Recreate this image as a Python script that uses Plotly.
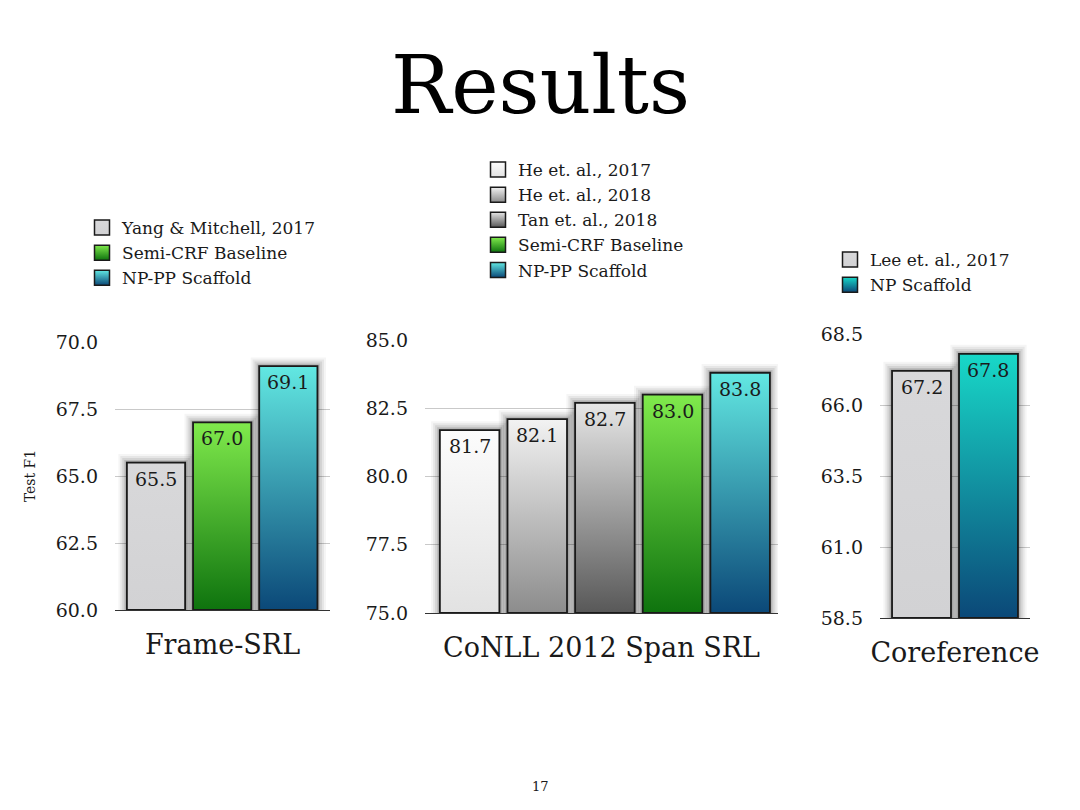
import plotly.graph_objects as go

# --- data ---
frame_labels = ["Yang & Mitchell, 2017", "Semi-CRF Baseline", "NP-PP Scaffold"]
frame_f1 = [65.5, 67.0, 69.1]
frame_ticks = [60.0, 62.5, 65.0, 67.5, 70.0]

conll_labels = ["He et. al., 2017", "He et. al., 2018", "Tan et. al., 2018",
                "Semi-CRF Baseline", "NP-PP Scaffold"]
conll_f1 = [81.7, 82.1, 82.7, 83.0, 83.8]
conll_ticks = [75.0, 77.5, 80.0, 82.5, 85.0]

coref_labels = ["Lee et. al., 2017", "NP Scaffold"]
coref_f1 = [67.2, 67.8]
coref_ticks = [58.5, 61.0, 63.5, 66.0, 68.5]

# gradient (bottom colour, top colour) per system
grad = {
    "Yang & Mitchell, 2017": ("#d2d2d4", "#d8d8da"),
    "Lee et. al., 2017": ("#d2d2d4", "#d8d8da"),
    "He et. al., 2017": ("#e2e2e2", "#fcfcfc"),
    "He et. al., 2018": ("#8c8c8c", "#f2f2f2"),
    "Tan et. al., 2018": ("#585858", "#e6e6e6"),
    "Semi-CRF Baseline": ("#0e730e", "#80ea4c"),
    "NP-PP Scaffold": ("#0b4878", "#62e8e2"),
    "NP Scaffold": ("#0b4878", "#18d8c8"),
}

FONT = "DejaVu Serif"
INK = "#1a1a1a"
W = 0.44  # half bar width, in category units

# page body adds an 8px offset, so convert slide pixels -> paper coords
def px(x):
    return (x - 8) / 1080


def py(y):
    return 1 - (y - 8) / 810


fig = go.Figure()


def add_panel(labels, vals, ticks, n, legend):
    xa = "x" if n == 1 else f"x{n}"
    ya = "y" if n == 1 else f"y{n}"
    base = ticks[0]
    unit = (ticks[-1] - base) / 10
    for i, (lab, v) in enumerate(zip(labels, vals)):
        # soft drop shadow
        for k, op in [(0.13, 0.04), (0.10, 0.06), (0.07, 0.08), (0.04, 0.11), (0.02, 0.15)]:
            fig.add_trace(go.Scatter(
                x=[i - W - k, i + W + k, i + W + k, i - W - k, i - W - k],
                y=[base, base, v + k * 2.5 * unit, v + k * 2.5 * unit, base],
                fill="toself", fillcolor=f"rgba(0,0,0,{op})", mode="none",
                showlegend=False, hoverinfo="skip", xaxis=xa, yaxis=ya))
        lo, hi = grad[lab]
        fig.add_trace(go.Scatter(
            x=[i - W, i + W, i + W, i - W, i - W],
            y=[base, base, v, v, base],
            fill="toself", mode="lines",
            line=dict(color=INK, width=1.8),
            fillgradient=dict(type="vertical", colorscale=[[0, lo], [1, hi]]),
            showlegend=False, xaxis=xa, yaxis=ya, hoverinfo="skip"))
        # legend swatch
        fig.add_trace(go.Scatter(
            x=[None], y=[None], mode="markers", name=lab, legend=legend,
            marker=dict(symbol="square", size=15, color=hi,
                        gradient=dict(type="vertical", color=lo),
                        line=dict(color=INK, width=1.5)),
            xaxis=xa, yaxis=ya))
    for i, v in enumerate(vals):
        fig.add_annotation(x=i, y=v, xref=xa, yref=ya, text=f"{v:.1f}",
                           showarrow=False, yanchor="top", yshift=-3,
                           font=dict(family=FONT, size=19, color=INK))


add_panel(frame_labels, frame_f1, frame_ticks, 1, "legend")
add_panel(conll_labels, conll_f1, conll_ticks, 2, "legend2")
add_panel(coref_labels, coref_f1, coref_ticks, 3, "legend3")

ax_common = dict(showgrid=False, zeroline=False, showline=True, linecolor="#333",
                 linewidth=1.3, showticklabels=False, ticks="", fixedrange=True,
                 automargin=False,
                 title_font=dict(family=FONT, size=27, color=INK), title_standoff=24)
ay_common = dict(showgrid=True, gridcolor="#c9c9c9", gridwidth=1, zeroline=False,
                 showline=False, tickformat=".1f", ticklabelstandoff=16,
                 automargin=False,
                 tickfont=dict(family=FONT, size=19, color=INK), fixedrange=True)
leg_common = dict(xanchor="left", yanchor="top", bgcolor="rgba(0,0,0,0)",
                  font=dict(family=FONT, size=17, color=INK))

fig.update_layout(
    width=1080, height=810,
    margin=dict(l=0, r=0, t=0, b=0),
    paper_bgcolor="white", plot_bgcolor="white",
    font=dict(family=FONT, color=INK),
    xaxis=dict(ax_common, domain=[px(115), px(330)], range=[-0.62, 2.63],
               title_text="Frame-SRL"),
    yaxis=dict(ay_common, domain=[py(610), py(342)],
               range=[frame_ticks[0], frame_ticks[-1]], tickvals=frame_ticks,
               title=dict(text="Test F1", font=dict(family=FONT, size=14, color=INK),
                          standoff=16)),
    xaxis2=dict(ax_common, domain=[px(425), px(778)], range=[-0.66, 4.56],
                anchor="y2", title_text="CoNLL 2012 Span SRL"),
    yaxis2=dict(ay_common, domain=[py(613), py(340)], anchor="x2",
                range=[conll_ticks[0], conll_ticks[-1]], tickvals=conll_ticks),
    xaxis3=dict(ax_common, domain=[px(880), px(1030)], range=[-0.62, 1.62],
                anchor="y3", title_text="Coreference"),
    yaxis3=dict(ay_common, domain=[py(618), py(334)], anchor="x3",
                range=[coref_ticks[0], coref_ticks[-1]], tickvals=coref_ticks),
    legend=dict(leg_common, x=px(82), y=py(210)),
    legend2=dict(leg_common, x=px(478), y=py(152)),
    legend3=dict(leg_common, x=px(830), y=py(242)),
)
fig.add_annotation(text="Results", x=px(540), y=py(85), xref="paper", yref="paper",
                   showarrow=False, yanchor="middle",
                   font=dict(family=FONT, size=80, color="#000"))
fig.add_annotation(text="17", x=px(540), y=py(786), xref="paper", yref="paper",
                   showarrow=False, yanchor="middle",
                   font=dict(family=FONT, size=13, color=INK))

fig.write_html("out.html")
